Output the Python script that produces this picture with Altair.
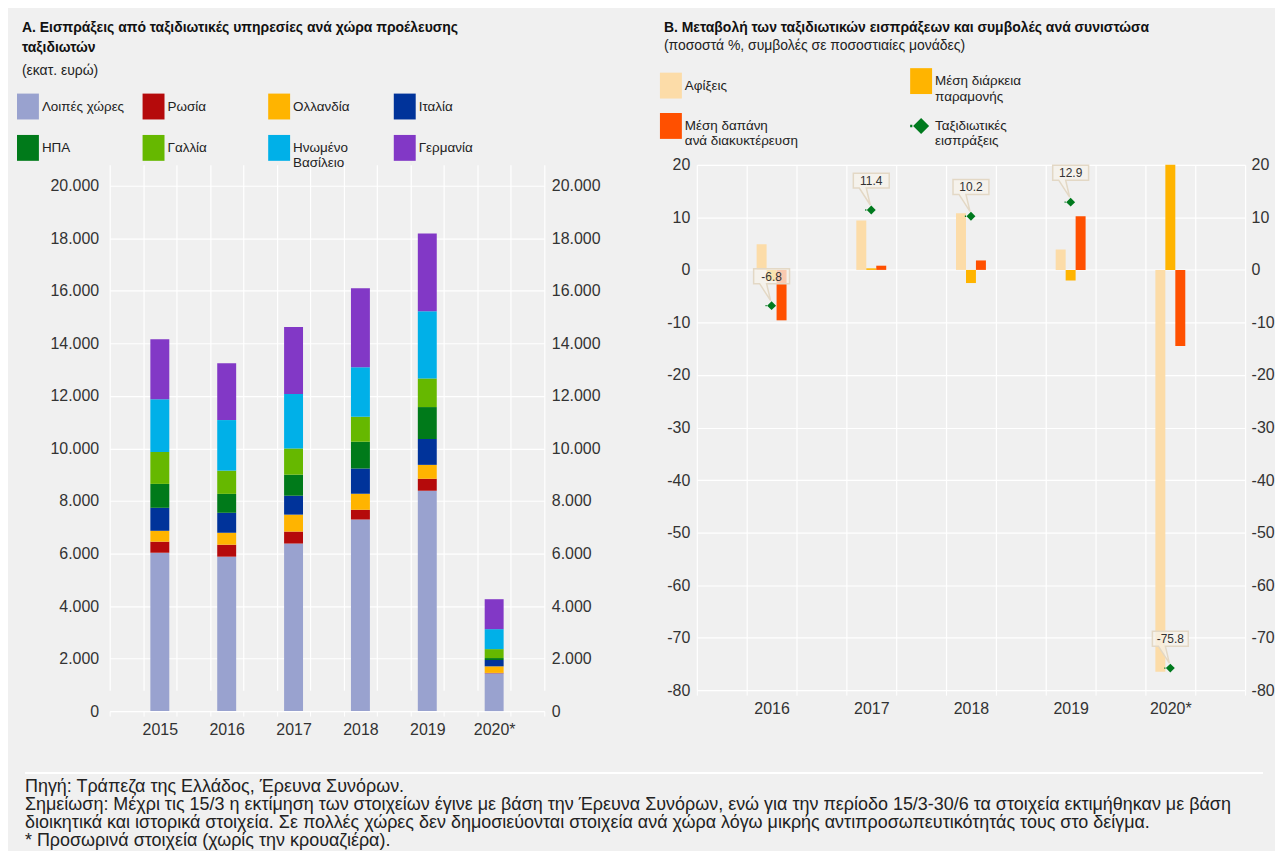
import altair as alt
import pandas as pd

FONT = "Liberation Sans"
TXT = "#222222"

# ---------------- Panel A data ----------------
YEARS_A = [2015, 2016, 2017, 2018, 2019, 2020]
COUNTRIES = ["Λοιπές χώρες", "Ρωσία", "Ολλανδία", "Ιταλία",
             "ΗΠΑ", "Γαλλία", "Ηνωμένο Βασίλειο", "Γερμανία"]
COUNTRY_COLORS = ["#99A2CF", "#B50A0B", "#FFB400", "#00339A",
                  "#007A1A", "#66B800", "#00B0E8", "#8238C6"]
VAL_OTHER = [6030, 5880, 6380, 7290, 8390, 1440]
VAL_RUSSIA = [420, 455, 455, 380, 455, 15]
VAL_NL = [415, 455, 645, 605, 530, 250]
VAL_ITALY = [875, 760, 720, 960, 985, 240]
VAL_USA = [910, 720, 800, 1015, 1215, 75]
VAL_FRANCE = [1215, 885, 1000, 960, 1090, 340]
VAL_UK = [2010, 1925, 2075, 1885, 2555, 760]
VAL_GERMANY = [2280, 2165, 2545, 3000, 2960, 1140]
Y_TICKS_A = [0, 2000, 4000, 6000, 8000, 10000, 12000, 14000, 16000, 18000, 20000]
X_GRID_A = [2014.25, 2014.75, 2015.25, 2015.75, 2016.25, 2016.75, 2017.25,
            2017.75, 2018.25, 2018.75, 2019.25, 2019.75, 2020.25, 2020.75]

# ---------------- Panel B data ----------------
YEARS_B = [2016, 2017, 2018, 2019, 2020]
SERIES_B = ["Αφίξεις", "Μέση διάρκεια παραμονής",
            "Μέση δαπάνη ανά διακυκτέρευση", "Ταξιδιωτικές εισπράξεις"]
COLORS_B = ["#FCDCA8", "#FFB400", "#FF5000", "#007A1E"]
ARRIVALS = [4.9, 9.4, 10.8, 3.9, -76.5]
STAY = [-2.1, 0.3, -2.5, -2.0, 20.5]
SPEND = [-9.6, 0.8, 1.8, 10.2, -14.5]
RECEIPTS = [-6.8, 11.4, 10.2, 12.9, -75.8]
Y_TICKS_B = [-80, -70, -60, -50, -40, -30, -20, -10, 0, 10, 20]
X_GRID_B = [2015.25, 2015.75, 2016.25, 2016.75, 2017.25, 2017.75,
            2018.25, 2018.75, 2019.25, 2019.75, 2020.25, 2020.75]

FOOTER_LINES = [
    "Πηγή: Τράπεζα της Ελλάδος, Έρευνα Συνόρων.",
    "Σημείωση: Μέχρι τις 15/3 η εκτίμηση των στοιχείων έγινε με βάση την Έρευνα Συνόρων, ενώ για την περίοδο 15/3-30/6 τα στοιχεία εκτιμήθηκαν με βάση",
    "διοικητικά και ιστορικά στοιχεία. Σε πολλές χώρες δεν δημοσιεύονται στοιχεία ανά χώρα λόγω μικρής αντιπροσωπευτικότητάς τους στο δείγμα.",
    "* Προσωρινά στοιχεία (χωρίς την κρουαζιέρα).",
]

# ---------------- shapes ----------------
RECT_PATH = "M-1,-1.18H1V1.18H-1Z"
DIAMOND_PATH = "M-0.73,0L0,-0.73L0.73,0L0,0.73Z M-1,-0.12H-0.8V0.12H-1Z"
CALLOUT_PATH = "M-0.36,-0.74L0.36,-0.74L0.36,-0.44L-0.1,-0.44L-0.02,-0.1L-0.24,-0.44L-0.36,-0.44Z"

# ---------------- tables ----------------
series_a = [VAL_OTHER, VAL_RUSSIA, VAL_NL, VAL_ITALY, VAL_USA, VAL_FRANCE, VAL_UK, VAL_GERMANY]
rows_a = []
for ci, (name, vals) in enumerate(zip(COUNTRIES, series_a)):
    for y, v in zip(YEARS_A, vals):
        rows_a.append({"year": y, "country": name, "value": v, "ord": ci})
df_a = pd.DataFrame(rows_a)

rows_b = []
for k, (name, vals) in enumerate(zip(SERIES_B[:3], [ARRIVALS, STAY, SPEND])):
    for y, v in zip(YEARS_B, vals):
        rows_b.append({"year": y, "series": name, "value": v, "k": k})
df_b = pd.DataFrame(rows_b)

df_p = pd.DataFrame({
    "year": YEARS_B,
    "value": RECEIPTS,
    "label": [f"{v:.1f}" for v in RECEIPTS],
    "series": [SERIES_B[3]] * len(YEARS_B),
})

df_f = pd.DataFrame({"i": list(range(len(FOOTER_LINES))), "line": FOOTER_LINES})

# ---------------- Panel A ----------------
XS_A = alt.Scale(domain=[2014.25, 2020.75], nice=False, zero=False, padding=0)
YS_A = alt.Scale(domain=[0, 20000], nice=False, range=[548, 21])
thousands = "replace(format(datum.value, ','), ',', '.')"
year_lab = "datum.value == 2020 ? '2020*' : '' + datum.value"

LEG_A = alt.Legend(
    orient="none", legendX=-93, legendY=-74, direction="horizontal", columns=4,
    title=None, symbolType=RECT_PATH, symbolSize=484, symbolStrokeWidth=0,
    labelFont=FONT, labelFontSize=13.5, labelColor=TXT, labelOffset=3,
    columnPadding=18, rowPadding=11, gridAlign="all", labelLimit=300,
    labelExpr="datum.label == 'Ηνωμένο Βασίλειο' ? ['Ηνωμένο', 'Βασίλειο'] : datum.label",
)

bars_a = alt.Chart(df_a).mark_bar(size=19).encode(
    x=alt.X("year:Q", scale=XS_A,
            axis=alt.Axis(orient="bottom", values=X_GRID_A, grid=True, labels=False, ticks=True,
                          tickSize=5, tickColor="white", domain=False, title=None)),
    y=alt.Y("value:Q", stack="zero", scale=YS_A,
            axis=alt.Axis(orient="left", values=Y_TICKS_A, grid=True, labelExpr=thousands,
                          labelPadding=11, title=None)),
    color=alt.Color("country:N", scale=alt.Scale(domain=COUNTRIES, range=COUNTRY_COLORS),
                    legend=LEG_A),
    order=alt.Order("ord:Q", sort="ascending"),
)
labels_a = alt.Chart(df_a).mark_point(opacity=0).encode(
    x=alt.X("year:Q", scale=XS_A,
            axis=alt.Axis(orient="bottom", values=YEARS_A, labelExpr=year_lab, grid=False,
                          ticks=False, domain=False, labelPadding=10, title=None)),
    y=alt.Y("value:Q", scale=YS_A,
            axis=alt.Axis(orient="right", values=Y_TICKS_A, grid=False, labelExpr=thousands,
                          labelPadding=7, title=None)),
)
panel_a = alt.layer(bars_a, labels_a).resolve_axis(x="independent", y="independent").properties(
    width=436, height=548,
    title=alt.TitleParams(
        text=["Α. Εισπράξεις από ταξιδιωτικές υπηρεσίες ανά χώρα προέλευσης", "ταξιδιωτών"],
        subtitle="(εκατ. ευρώ)", anchor="start", font=FONT, fontSize=14, fontWeight="bold",
        color="#111111", subtitleFont=FONT, subtitleFontSize=14, subtitleColor=TXT,
        lineHeight=20, subtitlePadding=9, dx=5, offset=13),
)

# ---------------- Panel B ----------------
XS_B = alt.Scale(domain=[2015.25, 2020.75], nice=False, zero=False, padding=0)
YS_B = alt.Scale(domain=[-80, 20], nice=False)
COLOR_B = alt.Scale(domain=SERIES_B, range=COLORS_B)
SHAPE_B = alt.Scale(domain=SERIES_B, range=[RECT_PATH, RECT_PATH, RECT_PATH, DIAMOND_PATH])
LEG_B = alt.Legend(
    orient="none", legendX=-37, legendY=-95, direction="horizontal", columns=2,
    title=None, symbolSize=484, symbolStrokeWidth=0, symbolType=RECT_PATH,
    labelFont=FONT, labelFontSize=13.5, labelColor=TXT, labelOffset=3,
    columnPadding=112, rowPadding=10, gridAlign="all", labelLimit=300,
    labelExpr=("datum.label == 'Μέση διάρκεια παραμονής' ? ['Μέση διάρκεια', 'παραμονής'] : "
               "datum.label == 'Μέση δαπάνη ανά διακυκτέρευση' ? ['Μέση δαπάνη', 'ανά διακυκτέρευση'] : "
               "datum.label == 'Ταξιδιωτικές εισπράξεις' ? ['Ταξιδιωτικές', 'εισπράξεις'] : datum.label"),
)

bars_b = alt.Chart(df_b).transform_calculate(
    xpos="datum.year + (datum.k - 1) * 0.1"
).mark_bar(size=10, clip=True).encode(
    x=alt.X("xpos:Q", scale=XS_B,
            axis=alt.Axis(orient="bottom", values=X_GRID_B, grid=True, labels=False, ticks=True,
                          tickSize=5, tickColor="white", domain=False, title=None)),
    y=alt.Y("value:Q", scale=YS_B,
            axis=alt.Axis(orient="left", values=Y_TICKS_B, grid=True,
                          labelExpr="'' + datum.value", labelPadding=7, title=None)),
    color=alt.Color("series:N", scale=COLOR_B, legend=LEG_B),
)
callout = alt.Chart(df_p).mark_point(
    shape=CALLOUT_PATH, size=10000, filled=True, fill="#F7F3EB", fillOpacity=0.75,
    stroke="#E3D8C5", strokeWidth=1.5, strokeOpacity=1, opacity=1,
).encode(
    x=alt.X("year:Q", scale=XS_B, axis=None),
    y=alt.Y("value:Q", scale=YS_B, axis=None),
)
callout_text = alt.Chart(df_p).mark_text(dy=-29, font=FONT, fontSize=12, color="#333333").encode(
    x=alt.X("year:Q", scale=XS_B, axis=None),
    y=alt.Y("value:Q", scale=YS_B, axis=None),
    text="label:N",
)
diamonds = alt.Chart(df_p).mark_point(filled=True, size=150, opacity=1).encode(
    x=alt.X("year:Q", scale=XS_B, axis=None),
    y=alt.Y("value:Q", scale=YS_B, axis=None),
    color=alt.Color("series:N", scale=COLOR_B, legend=LEG_B),
    shape=alt.Shape("series:N", scale=SHAPE_B, legend=LEG_B),
)
labels_b = alt.Chart(df_p).mark_point(opacity=0).encode(
    x=alt.X("year:Q", scale=XS_B,
            axis=alt.Axis(orient="bottom", values=YEARS_B, labelExpr=year_lab, grid=False,
                          ticks=False, domain=False, labelPadding=10, title=None)),
    y=alt.Y("value:Q", scale=YS_B,
            axis=alt.Axis(orient="right", values=Y_TICKS_B, grid=False,
                          labelExpr="'' + datum.value", labelPadding=6, title=None)),
)
panel_b = alt.layer(bars_b, callout, callout_text, diamonds, labels_b).resolve_axis(
    x="independent", y="independent"
).properties(
    width=550, height=527,
    title=alt.TitleParams(
        text="Β. Μεταβολή των ταξιδιωτικών εισπράξεων και συμβολές ανά συνιστώσα",
        subtitle="(ποσοστά %, συμβολές σε ποσοστιαίες μονάδες)", anchor="start", font=FONT,
        fontSize=14, fontWeight="bold", color="#111111", subtitleFont=FONT,
        subtitleFontSize=14, subtitleColor=TXT, lineHeight=20, subtitlePadding=4,
        dx=4, offset=17),
)

# ---------------- Footer ----------------
footer_text = alt.Chart(df_f).mark_text(
    align="left", baseline="middle", font=FONT, fontSize=18, color=TXT,
    limit=1240, ellipsis=" "
).encode(
    x=alt.value(-85),
    y=alt.Y("i:Q", axis=None, scale=alt.Scale(domain=[0, 3], range=[14, 68])),
    text="line:N",
)
footer_rule = alt.Chart(df_f).mark_rule(color="white", strokeWidth=2).encode(
    x=alt.value(-85), x2=alt.value(1157), y=alt.value(0)
)
footer = alt.layer(footer_rule, footer_text).properties(width=1100, height=70)

top_row = alt.hconcat(panel_a, panel_b, spacing=60).resolve_scale(
    color="independent", shape="independent"
).resolve_legend(color="independent", shape="independent")

chart = alt.vconcat(
    top_row,
    footer,
    spacing=35,
).resolve_scale(
    color="independent", shape="independent"
).properties(
    padding={"left": 9, "top": 12, "right": 0, "bottom": 0}
).configure(
    background="#F0F0F0", font=FONT
).configure_view(
    stroke=None
).configure_axis(
    labelFont=FONT, labelFontSize=16, labelColor="#333333",
    gridColor="white", gridWidth=1.2, domain=False, ticks=False,
)

chart.save("out.html", embed_options={"renderer": "svg", "actions": False})
